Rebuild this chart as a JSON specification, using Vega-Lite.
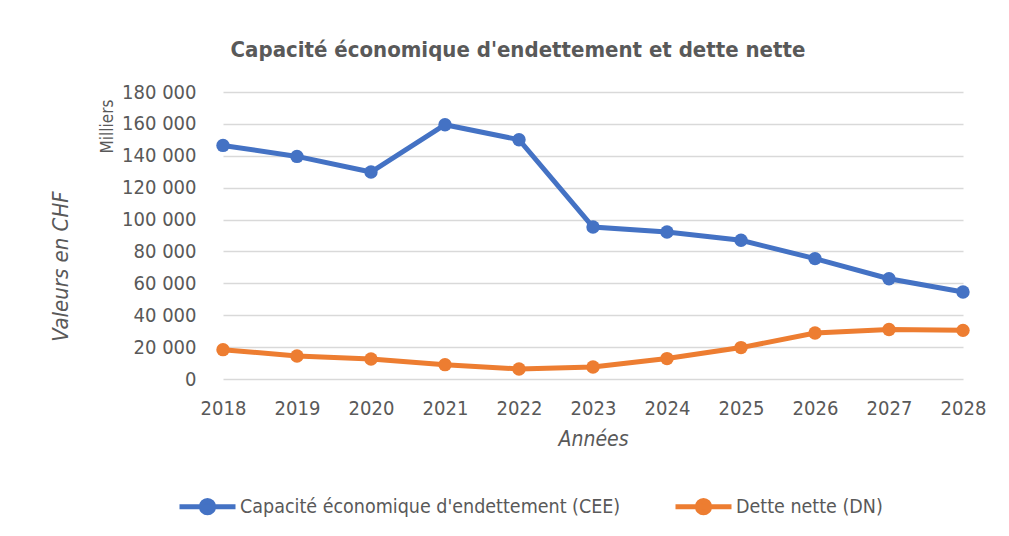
{
  "$schema": "https://vega.github.io/schema/vega-lite/v6.json",
  "width": 740,
  "height": 287,
  "autosize": {"type": "none"},
  "padding": {"left": 223, "top": 92, "right": 46, "bottom": 157},
  "background": "white",
  "title": {
    "text": "Capacité économique d'endettement et dette nette",
    "fontSize": 22,
    "fontWeight": "bold",
    "color": "#595959",
    "anchor": "middle",
    "frame": "group",
    "dx": -75,
    "offset": 20
  },
  "config": {
    "font": "Arial Narrow, Liberation Sans Narrow, DejaVu Sans Condensed, Roboto Condensed, sans-serif",
    "view": {"stroke": null},
    "locale": {"number": {"decimal": ",", "thousands": " ", "grouping": [3], "currency": ["", " CHF"]}}
  },
  "data": {
    "values": [
      {"serie": "Capacité économique d'endettement (CEE)", "annee": "2018", "valeur": 146500},
      {"serie": "Capacité économique d'endettement (CEE)", "annee": "2019", "valeur": 139600},
      {"serie": "Capacité économique d'endettement (CEE)", "annee": "2020", "valeur": 129800},
      {"serie": "Capacité économique d'endettement (CEE)", "annee": "2021", "valeur": 159500},
      {"serie": "Capacité économique d'endettement (CEE)", "annee": "2022", "valeur": 150100},
      {"serie": "Capacité économique d'endettement (CEE)", "annee": "2023", "valeur": 95300},
      {"serie": "Capacité économique d'endettement (CEE)", "annee": "2024", "valeur": 92200},
      {"serie": "Capacité économique d'endettement (CEE)", "annee": "2025", "valeur": 87000},
      {"serie": "Capacité économique d'endettement (CEE)", "annee": "2026", "valeur": 75500},
      {"serie": "Capacité économique d'endettement (CEE)", "annee": "2027", "valeur": 62900},
      {"serie": "Capacité économique d'endettement (CEE)", "annee": "2028", "valeur": 54600},
      {"serie": "Dette nette (DN)", "annee": "2018", "valeur": 18400},
      {"serie": "Dette nette (DN)", "annee": "2019", "valeur": 14400},
      {"serie": "Dette nette (DN)", "annee": "2020", "valeur": 12500},
      {"serie": "Dette nette (DN)", "annee": "2021", "valeur": 9000},
      {"serie": "Dette nette (DN)", "annee": "2022", "valeur": 6300},
      {"serie": "Dette nette (DN)", "annee": "2023", "valeur": 7500},
      {"serie": "Dette nette (DN)", "annee": "2024", "valeur": 12800},
      {"serie": "Dette nette (DN)", "annee": "2025", "valeur": 19700},
      {"serie": "Dette nette (DN)", "annee": "2026", "valeur": 28800},
      {"serie": "Dette nette (DN)", "annee": "2027", "valeur": 31000},
      {"serie": "Dette nette (DN)", "annee": "2028", "valeur": 30500}
    ]
  },
  "encoding": {
    "x": {
      "field": "annee",
      "type": "ordinal",
      "scale": {"type": "point", "padding": 0},
      "axis": {
        "title": "Années",
        "titleFontStyle": "italic",
        "titleFontWeight": "normal",
        "titleFontSize": 21,
        "titleColor": "#595959",
        "titlePadding": 10,
        "labelAngle": 0,
        "labelFontSize": 20,
        "labelColor": "#595959",
        "labelPadding": 19,
        "ticks": false,
        "domain": false,
        "grid": false
      }
    },
    "color": {
      "field": "serie",
      "type": "nominal",
      "scale": {
        "domain": ["Capacité économique d'endettement (CEE)", "Dette nette (DN)"],
        "range": ["#4472C4", "#ED7D31"]
      },
      "legend": {
        "title": null,
        "orient": "none",
        "direction": "horizontal",
        "legendX": -46,
        "legendY": 384,
        "padding": 0,
        "symbolType": "M-1,0L1,0M-0.22,0A0.22,0.22,0,1,1,0.22,0A0.22,0.22,0,1,1,-0.22,0Z",
        "symbolSize": 3136,
        "symbolStrokeWidth": 5,
        "symbolOpacity": 1,
        "labelFontSize": 19.5,
        "labelColor": "#595959",
        "labelOffset": 2,
        "columnPadding": 44,
        "labelLimit": 600
      }
    }
  },
  "layer": [
    {
      "mark": {"type": "line", "strokeWidth": 5},
      "encoding": {
        "y": {
          "field": "valeur",
          "type": "quantitative",
          "scale": {"domain": [0, 180000], "nice": false},
          "axis": {
            "values": [0, 20000, 40000, 60000, 80000, 100000, 120000, 140000, 160000, 180000],
            "format": ",d",
            "title": "Milliers",
            "titleAngle": -90,
            "titleX": -116,
            "titleY": 34,
            "titleAlign": "center",
            "titleBaseline": "middle",
            "titleFontSize": 17,
            "titleFontWeight": "normal",
            "titleColor": "#595959",
            "labelFontSize": 20,
            "labelColor": "#595959",
            "labelPadding": 27,
            "ticks": false,
            "domain": false,
            "grid": true,
            "gridColor": "#d9d9d9",
            "gridWidth": 1.5
          }
        }
      }
    },
    {
      "mark": {"type": "point", "filled": true, "size": 180, "opacity": 1},
      "encoding": {
        "y": {
          "field": "valeur",
          "type": "quantitative",
          "scale": {"domain": [0, 180000], "nice": false},
          "axis": {
            "orient": "left",
            "title": "Valeurs en CHF",
            "titleAngle": -90,
            "titleX": -163,
            "titleY": 174,
            "titleAlign": "center",
            "titleBaseline": "middle",
            "titleFontSize": 22,
            "titleFontStyle": "italic",
            "titleFontWeight": "normal",
            "titleColor": "#595959",
            "labels": false,
            "ticks": false,
            "domain": false,
            "grid": false
          }
        }
      }
    }
  ],
  "resolve": {"scale": {"y": "independent"}, "axis": {"y": "independent"}}
}
